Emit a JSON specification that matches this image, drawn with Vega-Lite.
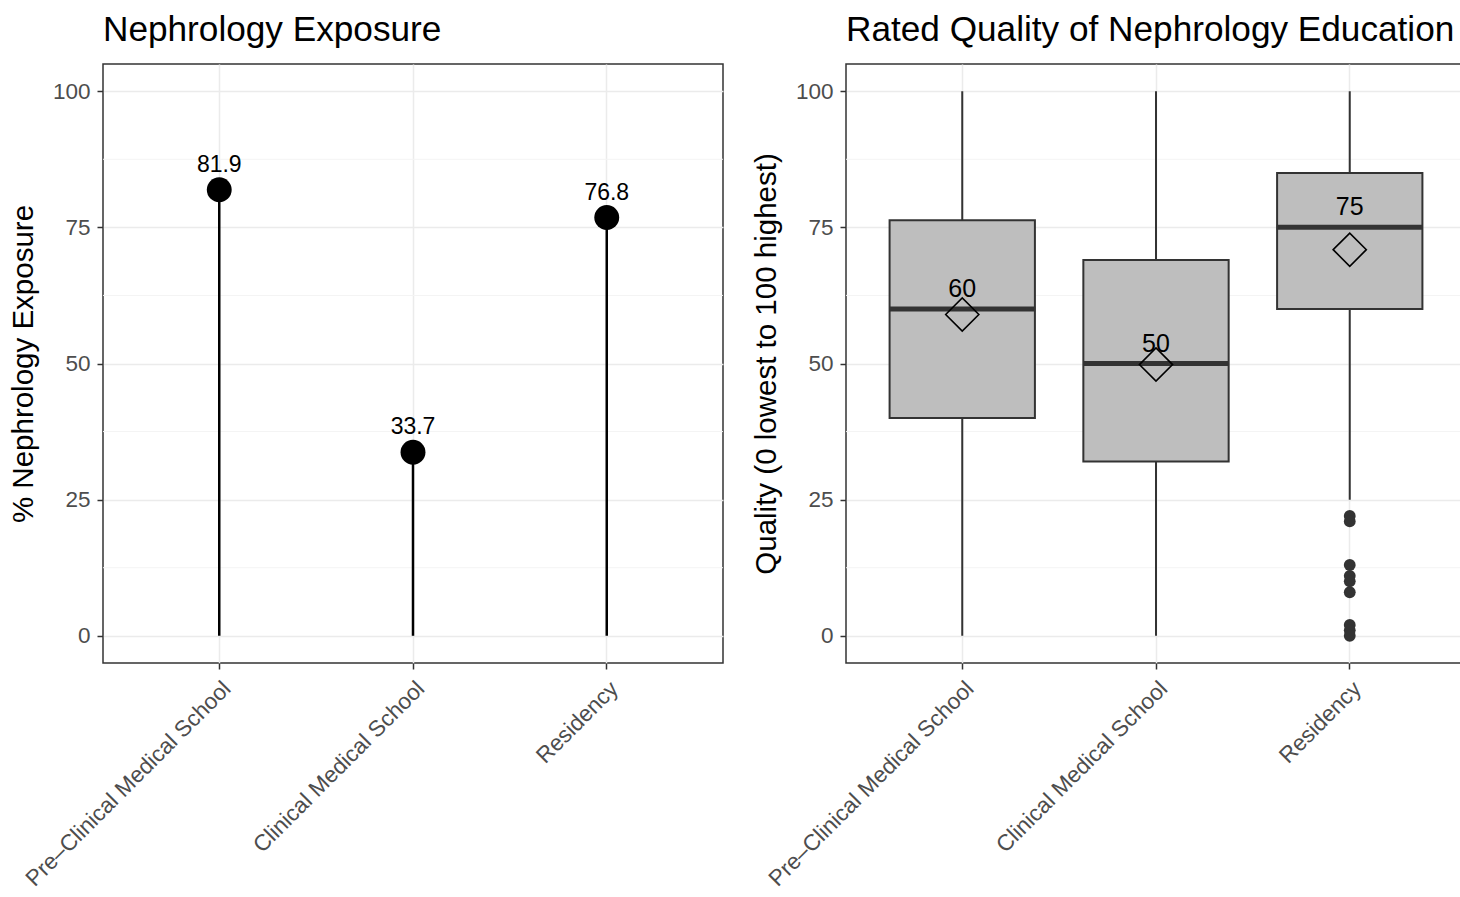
{
  "$schema": "https://vega.github.io/schema/vega-lite/v6.json",
  "background": "white",
  "padding": {"left": 7, "top": 12, "right": 0, "bottom": 0},
  "bounds": "flush",
  "spacing": 123,
  "config": {
    "font": "Liberation Sans",
    "view": {"stroke": "#333333", "strokeWidth": 1.5},
    "title": {"anchor": "start", "frame": "group", "fontSize": 35.2, "fontWeight": "normal", "color": "#000000", "baseline": "alphabetic", "offset": 16},
    "axis": {
      "labelFont": "Liberation Sans", "titleFont": "Liberation Sans",
      "labelFontSize": 22.5, "labelColor": "#4D4D4D", "labelLimit": 0,
      "titleFontSize": 29.5, "titleFontWeight": "normal", "titleColor": "#000000",
      "tickColor": "#333333", "tickSize": 6, "tickWidth": 1.5,
      "domain": false, "gridColor": "#EBEBEB", "gridWidth": 1.5
    }
  },
  "datasets": {
    "exposure": [
      {"stage": "Pre–Clinical Medical School", "pct": 81.9, "base": 0},
      {"stage": "Clinical Medical School", "pct": 33.7, "base": 0},
      {"stage": "Residency", "pct": 76.8, "base": 0}
    ],
    "quality": [
      {"stage": "Pre–Clinical Medical School", "lower": 0, "q1": 40, "median": 60, "q3": 76.3, "upper": 100, "mean": 59.0},
      {"stage": "Clinical Medical School", "lower": 0, "q1": 32, "median": 50, "q3": 69, "upper": 100, "mean": 49.8},
      {"stage": "Residency", "lower": 25, "q1": 60, "median": 75, "q3": 85, "upper": 100, "mean": 70.9}
    ],
    "outliers": [
      {"stage": "Residency", "value": 22},
      {"stage": "Residency", "value": 21},
      {"stage": "Residency", "value": 13},
      {"stage": "Residency", "value": 11},
      {"stage": "Residency", "value": 10},
      {"stage": "Residency", "value": 8},
      {"stage": "Residency", "value": 2},
      {"stage": "Residency", "value": 1},
      {"stage": "Residency", "value": 0}
    ],
    "minor": [
      {"v": 12.5}, {"v": 37.5}, {"v": 62.5}, {"v": 87.5}
    ]
  },
  "hconcat": [
    {
      "title": "Nephrology Exposure",
      "width": 620,
      "height": 599,
      "layer": [
        {
          "data": {"name": "minor"},
          "mark": {"type": "rule", "color": "#F4F4F4", "strokeWidth": 1},
          "encoding": {"y": {"field": "v", "type": "quantitative", "scale": {"domain": [-5, 105], "nice": false, "zero": false}}}
        },
        {
          "data": {"name": "exposure"},
          "mark": {"type": "rule", "color": "#000000", "strokeWidth": 2.5},
          "encoding": {
            "x": {
              "field": "stage", "type": "nominal", "sort": null,
              "scale": {"type": "band", "domain": ["Pre–Clinical Medical School", "Clinical Medical School", "Residency"], "paddingInner": 0.25, "paddingOuter": 0.225},
              "axis": {"title": null, "labelAngle": -45, "labelAlign": "right", "labelBaseline": "top", "bandPosition": 0.5, "grid": true, "labelPadding": 8}
            },
            "y": {"field": "pct", "type": "quantitative",
              "axis": {"title": "% Nephrology Exposure", "values": [0, 25, 50, 75, 100], "grid": true, "labelPadding": 7, "titlePadding": 14}},
            "y2": {"field": "base"}
          }
        },
        {
          "data": {"name": "exposure"},
          "mark": {"type": "circle", "color": "#000000", "opacity": 1, "size": 620},
          "encoding": {"x": {"field": "stage", "type": "nominal", "sort": null}, "y": {"field": "pct", "type": "quantitative"}}
        },
        {
          "data": {"name": "exposure"},
          "mark": {"type": "text", "fontSize": 23, "color": "#000000", "baseline": "alphabetic", "dy": -18},
          "encoding": {"x": {"field": "stage", "type": "nominal", "sort": null}, "y": {"field": "pct", "type": "quantitative"}, "text": {"field": "pct", "type": "quantitative", "format": ".1f"}}
        }
      ]
    },
    {
      "title": "Rated Quality of Nephrology Education",
      "width": 620,
      "height": 599,
      "layer": [
        {
          "data": {"name": "minor"},
          "mark": {"type": "rule", "color": "#F4F4F4", "strokeWidth": 1},
          "encoding": {"y": {"field": "v", "type": "quantitative", "scale": {"domain": [-5, 105], "nice": false, "zero": false}}}
        },
        {
          "data": {"name": "quality"},
          "mark": {"type": "rule", "color": "#333333", "strokeWidth": 2},
          "encoding": {
            "x": {
              "field": "stage", "type": "nominal", "sort": null,
              "scale": {"type": "band", "domain": ["Pre–Clinical Medical School", "Clinical Medical School", "Residency"], "paddingInner": 0.25, "paddingOuter": 0.225},
              "axis": {"title": null, "labelAngle": -45, "labelAlign": "right", "labelBaseline": "top", "bandPosition": 0.5, "grid": true, "labelPadding": 8}
            },
            "y": {"field": "lower", "type": "quantitative",
              "axis": {"title": "Quality (0 lowest to 100 highest)", "values": [0, 25, 50, 75, 100], "grid": true, "labelPadding": 7, "titlePadding": 14}},
            "y2": {"field": "upper"}
          }
        },
        {
          "data": {"name": "quality"},
          "mark": {"type": "bar", "fill": "#BEBEBE", "stroke": "#333333", "strokeWidth": 2},
          "encoding": {"x": {"field": "stage", "type": "nominal", "sort": null}, "y": {"field": "q1", "type": "quantitative"}, "y2": {"field": "q3"}}
        },
        {
          "data": {"name": "quality"},
          "mark": {"type": "tick", "color": "#333333", "size": 146, "thickness": 5, "opacity": 1},
          "encoding": {"x": {"field": "stage", "type": "nominal", "sort": null}, "y": {"field": "median", "type": "quantitative"}}
        },
        {
          "data": {"name": "quality"},
          "mark": {"type": "point", "shape": "diamond", "filled": false, "stroke": "#000000", "strokeWidth": 1.6, "size": 1100, "opacity": 1},
          "encoding": {"x": {"field": "stage", "type": "nominal", "sort": null}, "y": {"field": "mean", "type": "quantitative"}}
        },
        {
          "data": {"name": "quality"},
          "mark": {"type": "text", "fontSize": 25, "color": "#000000", "baseline": "alphabetic", "dy": -12},
          "encoding": {"x": {"field": "stage", "type": "nominal", "sort": null}, "y": {"field": "median", "type": "quantitative"}, "text": {"field": "median", "type": "quantitative", "format": "d"}}
        },
        {
          "data": {"name": "outliers"},
          "mark": {"type": "circle", "color": "#333333", "opacity": 1, "size": 140},
          "encoding": {"x": {"field": "stage", "type": "nominal", "sort": null}, "y": {"field": "value", "type": "quantitative"}}
        }
      ]
    }
  ]
}
